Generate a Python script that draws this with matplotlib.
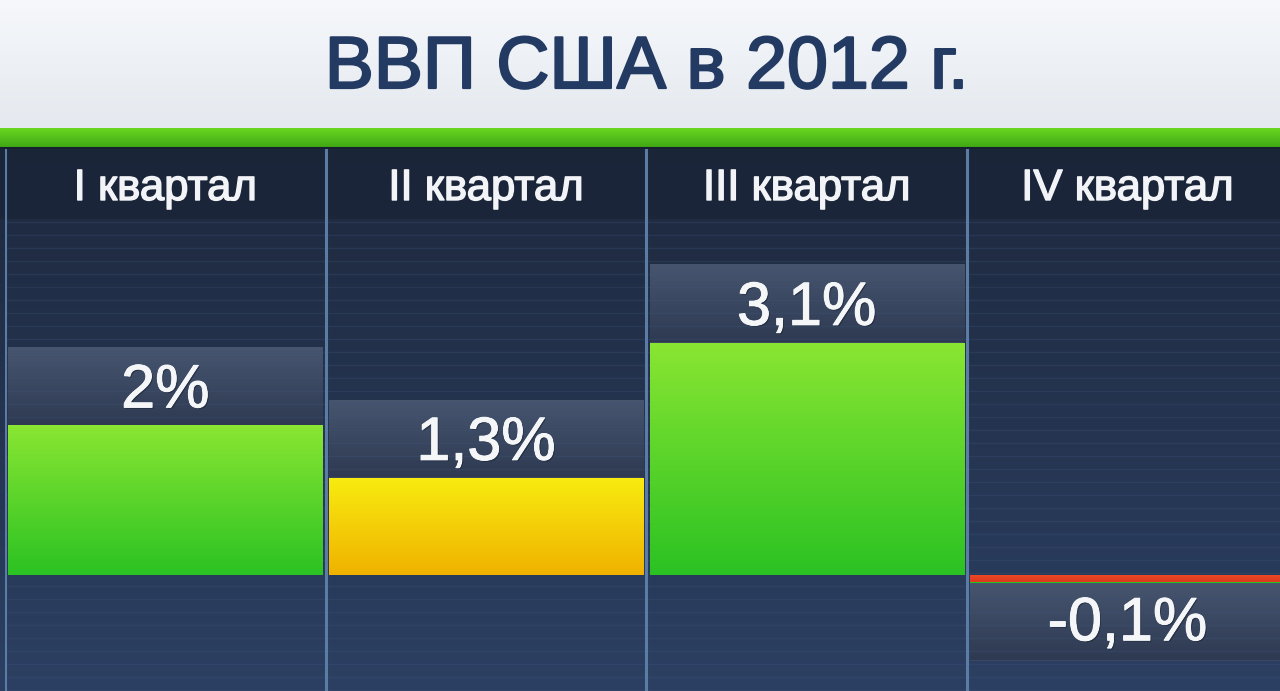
import numpy as np
import matplotlib
matplotlib.use("Agg")
import matplotlib.pyplot as plt
from matplotlib.colors import LinearSegmentedColormap
import matplotlib.patheffects as pe

# ---- data ----
title = "ВВП США в 2012 г."
quarters = ["I квартал", "II квартал", "III квартал", "IV квартал"]
values = [2.0, 1.3, 3.1, -0.1]
value_labels = ["2%", "1,3%", "3,1%", "-0,1%"]

# ---- styles ----
W, H = 1280, 691
FONT = ["Liberation Sans", "DejaVu Sans"]
bar_grads = {
    "green": ("#8ae632", "#2bc223"),
    "yellow": ("#f8ec10", "#f0b200"),
    "red": ("#f04a26", "#dc381c"),
}


def bar_style(v):
    if v < 0:
        return "red"
    if v < 1.5:
        return "yellow"
    return "green"


fig = plt.figure(figsize=(W / 100, H / 100), dpi=100)

# background (decorative) axes in pixel coords
bg = fig.add_axes([0, 0, 1, 1])
bg.set_xlim(0, W)
bg.set_ylim(H, 0)
bg.axis("off")


def vgrad(ax, extent, top, bottom, **kw):
    cmap = LinearSegmentedColormap.from_list("g", [top, bottom])
    g = np.linspace(0, 1, 256).reshape(-1, 1)
    return ax.imshow(g, extent=extent, cmap=cmap, aspect="auto",
                     origin="upper", interpolation="bilinear", **kw)


vgrad(bg, [0, W, 128, 0], "#f6f8fb", "#e4e9ef")
vgrad(bg, [0, W, 147, 128], "#6ad821", "#3fa814")
vgrad(bg, [0, W, H, 147], "#1d283d", "#2c4063")
bg.add_patch(plt.Rectangle((0, 147), W, 72, color="#1a2437", alpha=0.7, lw=0))
bg.hlines([147.5], 0, W, color="#16202f", lw=1.5)
bg.set_xlim(0, W)
bg.set_ylim(H, 0)

fig.text(647 / W, 1 - 88 / H, title, fontsize=53, color="#233a62",
         ha="center", va="baseline", family=FONT,
         path_effects=[pe.withStroke(linewidth=1.6, foreground="#233a62")])

# chart axes: 0 at pixel y=575, 75 px per percent
top_px, base_px, ppu = 148, 575, 75.0
x0_px, col_px = 5, 320.7
ax = fig.add_axes([x0_px / W, 0, 1 - x0_px / W, (H - top_px) / H])
ax.patch.set_alpha(0)
ax.axis("off")
ylim = (-(H - base_px) / ppu, (base_px - top_px) / ppu)
xlim = (-0.5, -0.5 + (W - x0_px) / col_px)

x = np.arange(len(values))
bw = 0.98
box_h = 1.04

# label boxes
box_vals = [box_h if v >= 0 else -box_h for v in values]
boxes = ax.bar(x, box_vals, bottom=values, width=bw, color="#3a475f",
               lw=0, zorder=2)
for b, v in zip(boxes, values):
    bx = b.get_x()
    y0, y1 = b.get_y(), b.get_y() + b.get_height()
    lo, hi = min(y0, y1), max(y0, y1)
    im = vgrad(ax, [bx, bx + bw, lo, hi], "#47556f", "#2e3a52", zorder=2.1)
    im.set_clip_path(b)

# stripes
stripe_y = base_px - np.arange(222, H, 13)
ax.hlines(stripe_y / ppu, xlim[0], xlim[1], color="#40557a", alpha=0.28,
          lw=1.0, zorder=2.5)

# bars
bars = ax.bar(x, values, width=bw, color="#2bc223", lw=0, zorder=3)
for b, v in zip(bars, values):
    top_c, bot_c = bar_grads[bar_style(v)]
    bx = b.get_x()
    y0, y1 = b.get_y(), b.get_y() + b.get_height()
    lo, hi = min(y0, y1), max(y0, y1)
    im = vgrad(ax, [bx, bx + bw, lo, hi], top_c, bot_c, zorder=3.1)
    im.set_clip_path(b)

# separators
for s in np.arange(-0.5, len(values) - 0.5 + 0.01, 1.0):
    ax.axvline(s, ymin=0, ymax=(ylim[1] - 0.03 - ylim[0]) / (ylim[1] - ylim[0]),
               color="#5b7ca4", lw=2.2, zorder=4)

# value labels
for xi, v, lab in zip(x, values, value_labels):
    y = v + 0.235 if v >= 0 else v - 0.77
    ax.text(xi, y, lab, fontsize=44, color="#f4f6f8", ha="center",
            va="baseline", family=FONT, zorder=5,
            path_effects=[pe.withSimplePatchShadow(offset=(1, -1),
                                                   shadow_rgbFace="#1a2233",
                                                   alpha=0.6),
                          pe.withStroke(linewidth=0.7, foreground="#f4f6f8")])

# quarter headers
for xi, q in zip(x, quarters):
    ax.text(xi, (base_px - 200) / ppu, q, fontsize=31.5, color="#f2f4f7",
            ha="center", va="baseline", family=FONT, zorder=5,
            path_effects=[pe.withStroke(linewidth=1.0, foreground="#f2f4f7")])

ax.set_xlim(*xlim)
ax.set_ylim(*ylim)

fig.savefig("out.png", dpi=100)
